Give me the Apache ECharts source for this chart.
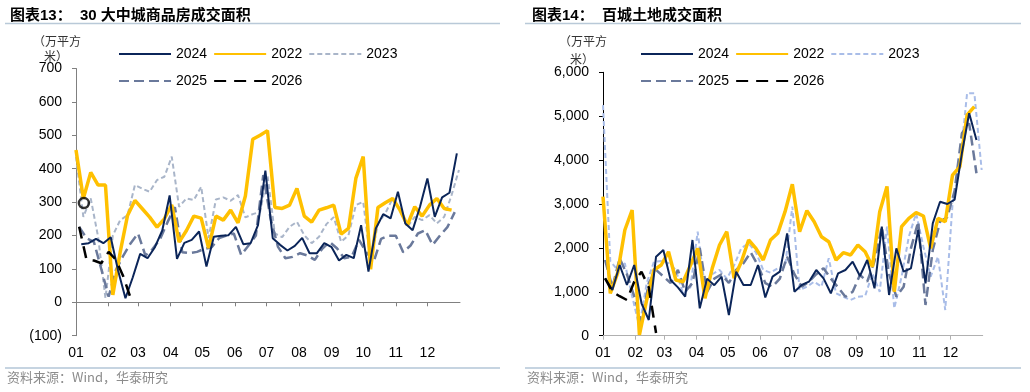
<!DOCTYPE html>
<html><head><meta charset="utf-8">
<script src="https://cdn.jsdelivr.net/npm/echarts@6/dist/echarts.min.js"></script>
<style>
html,body{margin:0;padding:0;background:#fff;}
#wrap{position:relative;width:1030px;height:392px;}
.c{position:absolute;top:0;width:515px;height:392px;}
</style>
</head><body>
<div id="wrap"><div id="left" class="c" style="left:0"></div><div id="right" class="c" style="left:515px"></div></div>
<script>
// ---------- shared axis categories (day-of-year of each month start) ----------
const monthStarts = [0, 31, 59, 90, 120, 151, 181, 212, 243, 273, 304, 334];
const monthLabels = ['01','02','03','04','05','06','07','08','09','10','11','12'];
const legendRow1 = ['2024', '2022', '2023'];
const legendRow2 = ['2025', '2026'];

// ---------- 图表13：30大中城商品房成交面积 (weekly, 万平方米) ----------
const L_start = { '2022': 0, '2023': 0, '2024': 5, '2025': 3, '2026': 3 }; // day of first weekly point
const L_2022 = [456, 311, 389, 351, 351, 22, 150, 260, 305, 280, 255, 225, 250, 292, 180, 215, 258, 252, 162, 258,
  246, 276, 238, 318, 488, 500, 514, 284, 281, 291, 341, 258, 240, 276, 283, 291, 204, 221, 371, 436,
  99, 284, 298, 311, 276, 231, 286, 258, 291, 311, 281, 276];
const L_2023 = [436, 256, 311, 196, 12, 200, 246, 261, 351, 340, 331, 366, 376, 436, 286, 311, 306, 346, 192, 308,
  314, 304, 321, 254, 264, 271, 381, 206, 195, 226, 241, 201, 177, 196, 234, 255, 181, 201, 291, 301,
  122, 236, 266, 311, 276, 226, 256, 246, 261, 236, 256, 321, 396];
const L_2024 = [174, 177, 190, 177, 195, 95, 12, 75, 145, 132, 165, 215, 320, 130, 178, 187, 212, 107, 196, 199,
  201, 226, 174, 177, 231, 394, 192, 172, 155, 169, 193, 147, 147, 177, 165, 125, 142, 132, 231, 92,
  221, 264, 251, 331, 236, 216, 286, 371, 256, 314, 328, 446];
const L_2025 = [226, 192, 181, 100, 17, 97, 140, 177, 206, 140, 160, 190, 240, 285, 150, 147, 151, 160, 165, 192,
  200, 206, 142, 170, 200, 381, 250, 166, 132, 136, 147, 140, 127, 160, 181, 162, 132, 136, 187, 150,
  122, 190, 199, 199, 150, 170, 206, 216, 172, 200, 225, 270];
const L_2026 = [226, 127, 125, 117, 151, 127, 77, 12];
const L_mark = [[7.5, 297]];

// ---------- 图表14：百城土地成交面积 (weekly, 万平方米) ----------
const R_start = { '2022': 0, '2023': 0, '2024': 2, '2025': 2, '2026': 2 };
const R_2022 = [3166, 966, 1420, 2408, 2863, 16, 813, 1496, 1610, 1913, 1269, 1230, 1600, 1990, 852, 1535, 2066, 2369, 1307, 1686,
  2180, 1990, 1724, 2180, 2332, 2825, 3450, 2369, 2848, 2597, 2255, 2141, 1724, 1891, 1838, 2066, 1913, 1572, 2825, 3400,
  1002, 2483, 2674, 2802, 2727, 1990, 2674, 2597, 3660, 3850, 5028, 5218];
const R_2023 = [5253, 1700, 1500, 1649, 900, 205, 1200, 1686, 1700, 1650, 1500, 950, 1100, 2369, 1100, 1400, 1500, 1300, 1600, 2000,
  2100, 1900, 1500, 1435, 1535, 1572, 2939, 1041, 1117, 1230, 1117, 1763, 966, 888, 813, 888, 904, 1420, 1000, 2483,
  624, 1344, 2255, 2787, 2027, 1344, 1800, 585, 3000, 3900, 5522, 5522, 3775];
const R_2024 = [1307, 1041, 1610, 1155, 1610, 738, 358, 1800, 1952, 1269, 1100, 888, 2180, 624, 1300, 1150, 1344, 471, 1458, 1155,
  1155, 1610, 870, 1344, 1458, 2332, 1002, 1155, 1230, 1496, 1307, 966, 1420, 1496, 1686, 1360, 1724, 1080, 2483, 927,
  1990, 1458, 1535, 2408, 1193, 2560, 3052, 3000, 3100, 4155, 5066, 4458];
const R_2025 = [1724, 1100, 1763, 1400, 900, 300, 1200, 1500, 1350, 1200, 1500, 1000, 1200, 2000, 1000, 1300, 1400, 1200, 1500, 1650,
  1900, 1600, 1200, 1117, 1300, 1800, 1400, 1117, 1230, 1400, 1535, 1300, 1100, 888, 1000, 1383, 1230, 1700, 2483, 1400,
  888, 1117, 1990, 2597, 699, 1952, 2597, 2700, 3300, 4610, 4838, 3700];
const R_2026 = [1307, 1002, 900, 813, 1230, 1458, 1100, 60];

// ---------- helpers ----------
const FONT = "'Liberation Sans', Arial, 'Noto Sans CJK SC', sans-serif";
function weekly(values, startDay) { return values.map((v, i) => [startDay + 7 * i, v]); }

function lineSeries(name, data, style, z) {
  return {
    name: name, type: 'line', data: data, symbol: 'none', showSymbol: false,
    lineStyle: style, itemStyle: { color: style.color }, z: z, silent: true,
    emphasis: { disabled: true }, animation: false
  };
}

function legendCfg(data, left, top) {
  return { data: data, left: left, top: top, padding: 0, itemWidth: 52, itemHeight: 14, itemGap: 6, selectedMode: false,
    itemStyle: { opacity: 0 },
    textStyle: { fontSize: 14, color: '#000', fontFamily: FONT } };
}

function buildOption(cfg) {
  return {
    animation: false,
    textStyle: { fontFamily: FONT },
    title: {
      text: cfg.title, left: cfg.titleLeft, top: 3,
      textStyle: { fontSize: 15, fontWeight: 'bold', color: '#000', fontFamily: FONT }
    },
    legend: [legendCfg(legendRow1, cfg.legendLeft, 47), legendCfg(legendRow2, cfg.legendLeft, 74)],
    grid: cfg.grid,
    xAxis: {
      type: 'value', min: 0, max: 365,
      axisLine: { show: true, onZero: true, lineStyle: { color: cfg.xAxisColor, width: 1 } },
      axisTick: { show: true, customValues: monthStarts, length: 4, lineStyle: { color: cfg.xAxisColor } },
      axisLabel: { show: true, customValues: monthStarts, margin: cfg.xLabelMargin, fontSize: 14, color: '#000', fontFamily: FONT,
        formatter: function (v) { const i = monthStarts.indexOf(Math.round(v)); return i >= 0 ? monthLabels[i] : ''; } },
      splitLine: { show: false }
    },
    yAxis: {
      type: 'value', min: cfg.yMin, max: cfg.yMax, interval: cfg.yInterval,
      axisLine: { show: true, lineStyle: { color: cfg.yAxisColor, width: 1 } },
      axisTick: { show: true, length: 4, lineStyle: { color: cfg.yAxisColor } },
      axisLabel: { margin: 14, fontSize: 14, color: '#000', fontFamily: FONT, formatter: cfg.yFormatter },
      splitLine: { show: false }
    },
    graphic: [
      { type: 'line', shape: { x1: cfg.sepX1, y1: 23.5, x2: cfg.sepX2, y2: 23.5 }, style: { stroke: '#b9c9d8', lineWidth: 1.5 }, silent: true },
      { type: 'line', shape: { x1: cfg.sepX1, y1: 368, x2: cfg.sepX2, y2: 368 }, style: { stroke: '#c6d4e1', lineWidth: 2 }, silent: true },
      { type: 'text', left: cfg.unitX1, top: 35, style: { text: '（万平方', fontSize: 12, fill: '#333', fontFamily: "'Noto Sans CJK SC', sans-serif" }, silent: true },
      { type: 'text', left: cfg.unitX2, top: cfg.unitY2, style: { text: '米）', fontSize: 12, fill: '#333', fontFamily: "'Noto Sans CJK SC', sans-serif" }, silent: true },
      { type: 'text', left: cfg.sepX1 + 2, top: 371, style: { text: '资料来源：Wind，华泰研究', fontSize: 13, fill: '#8c8c8c', fontFamily: "'Noto Sans CJK SC', sans-serif" }, silent: true }
    ],
    series: cfg.series
  };
}

// ---------- left chart ----------
const left = echarts.init(document.getElementById('left'), null, { renderer: 'canvas' });
left.setOption(buildOption({
  title: '图表13：  30 大中城商品房成交面积', titleLeft: 5, legendLeft: 118,
  grid: { left: 76, right: 55, top: 68.5, bottom: 56.3, containLabel: false },
  xAxisColor: '#808080', yAxisColor: '#808080', xLabelMargin: 10,
  yMin: -100, yMax: 700, yInterval: 100,
  yFormatter: function (v) { return v < 0 ? '(' + (-v) + ')' : String(v); },
  sepX1: 5, sepX2: 500, unitX1: 33, unitX2: 44, unitY2: 50,
  series: [
    lineSeries('2023', weekly(L_2023, L_start['2023']), { color: '#a9b5c9', width: 2, type: [5, 3] }, 2),
    lineSeries('2025', weekly(L_2025, L_start['2025']), { color: '#6a799b', width: 2.5, type: [10, 5] }, 3),
    lineSeries('2022', weekly(L_2022, L_start['2022']), { color: '#ffc000', width: 3.5 }, 4),
    lineSeries('2024', weekly(L_2024, L_start['2024']), { color: '#0b2559', width: 2 }, 5),
    lineSeries('2026', weekly(L_2026, L_start['2026']), { color: '#000000', width: 2.5, type: [12, 8] }, 6),
    { name: 'mark', type: 'scatter', data: L_mark, symbol: 'circle', symbolSize: 10, z: 7, silent: true,
      itemStyle: { color: 'rgba(0,0,0,0)', borderColor: '#000', borderWidth: 2.5 } }
  ]
}));

// ---------- right chart ----------
const right = echarts.init(document.getElementById('right'), null, { renderer: 'canvas' });
right.setOption(buildOption({
  title: '图表14：  百城土地成交面积', titleLeft: 12, legendLeft: 125,
  grid: { left: 88, right: 47.3, top: 72.3, bottom: 56.3, containLabel: false },
  xAxisColor: '#b0b0b0', yAxisColor: '#000000', xLabelMargin: 10,
  yMin: 0, yMax: 6000, yInterval: 1000,
  yFormatter: function (v) { return v.toLocaleString('en-US'); },
  sepX1: 10, sepX2: 506, unitX1: 44, unitX2: 55, unitY2: 53,
  series: [
    lineSeries('2023', weekly(R_2023, R_start['2023']), { color: '#a9bde8', width: 2, type: [5, 3] }, 2),
    lineSeries('2025', weekly(R_2025, R_start['2025']), { color: '#6a799b', width: 2.5, type: [10, 5] }, 3),
    lineSeries('2022', weekly(R_2022, R_start['2022']), { color: '#ffc000', width: 3.5 }, 4),
    lineSeries('2024', weekly(R_2024, R_start['2024']), { color: '#0b2559', width: 2 }, 5),
    lineSeries('2026', weekly(R_2026, R_start['2026']), { color: '#000000', width: 2.5, type: [12, 8] }, 6)
  ]
}));
</script>
</body></html>
